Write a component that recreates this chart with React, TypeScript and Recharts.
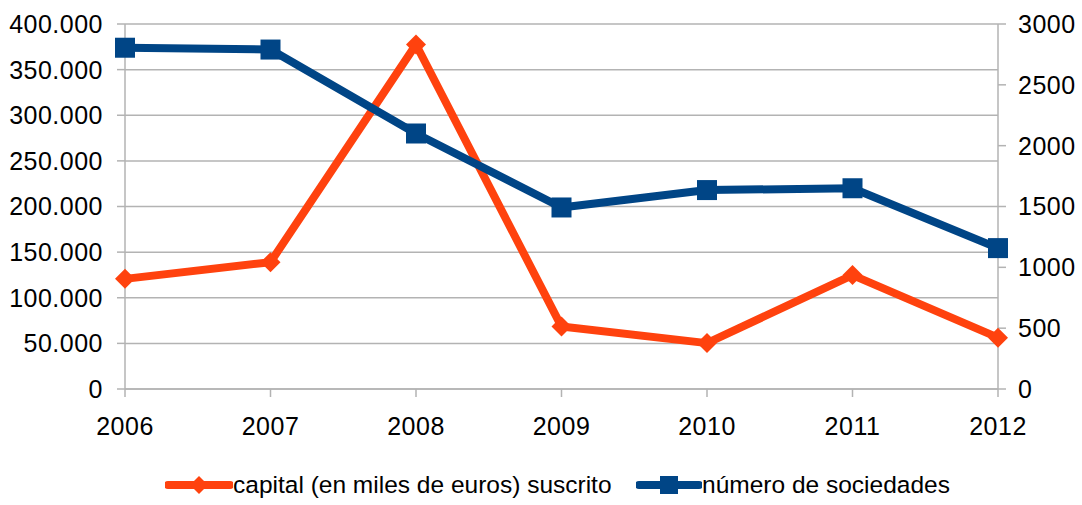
import React from "react";
import { LineChart, Line, XAxis, YAxis, CartesianGrid, Legend } from "recharts";

const years = ["2006", "2007", "2008", "2009", "2010", "2011", "2012"];
const capital = [120700, 139000, 377500, 68400, 50300, 124800, 56300];
const sociedades = [2805, 2790, 2100, 1492, 1635, 1650, 1158];
const leftTicks = [0, 50000, 100000, 150000, 200000, 250000, 300000, 350000, 400000];
const rightTicks = [0, 500, 1000, 1500, 2000, 2500, 3000];
const capitalName = "capital (en miles de euros) suscrito";
const sociedadesName = "número de sociedades";

const ORANGE = "#ff420e";
const BLUE = "#004586";
const GRID = "#b3b3b3";
const FONT = "'Liberation Sans', Arial, sans-serif";

const data = years.map((y, i) => ({ year: y, capital: capital[i], sociedades: sociedades[i] }));

const fmtDots = (v: number) => String(v).replace(/\B(?=(\d{3})+(?!\d))/g, ".");

const Diamond = (props: any) => {
  const { cx, cy, key } = props;
  if (cx == null || cy == null) return null;
  const r = 10;
  return (
    <polygon
      key={key}
      points={`${cx},${cy - r} ${cx + r},${cy} ${cx},${cy + r} ${cx - r},${cy}`}
      fill={ORANGE}
    />
  );
};

const Square = (props: any) => {
  const { cx, cy, key } = props;
  if (cx == null || cy == null) return null;
  const s = 20;
  return <rect key={key} x={cx - s / 2} y={cy - s / 2} width={s} height={s} fill={BLUE} />;
};

const LegendContent = () => (
  <div style={{ position: "relative", width: 1082, height: 40, fontFamily: FONT, fontSize: 24.5, color: "#000" }}>
    <div style={{ position: "absolute", left: 165, top: 0, height: 40, display: "flex", alignItems: "center" }}>
      <svg width={68} height={22} style={{ display: "block" }}>
        <line x1={3} y1={11} x2={65} y2={11} stroke={ORANGE} strokeWidth={8} strokeLinecap="round" />
        <polygon points="34,2 43,11 34,20 25,11" fill={ORANGE} />
      </svg>
      <span style={{ whiteSpace: "nowrap" }}>{capitalName}</span>
    </div>
    <div style={{ position: "absolute", left: 636, top: 0, height: 40, display: "flex", alignItems: "center" }}>
      <svg width={66} height={22} style={{ display: "block" }}>
        <line x1={3} y1={11} x2={63} y2={11} stroke={BLUE} strokeWidth={8} strokeLinecap="round" />
        <rect x={24} y={2} width={18} height={18} fill={BLUE} />
      </svg>
      <span style={{ whiteSpace: "nowrap" }}>{sociedadesName}</span>
    </div>
  </div>
);

export default function App() {
  const tickStyle = { fontFamily: FONT, fontSize: 25, fill: "#000", letterSpacing: 0.5 };
  return (
    <div style={{ position: "absolute", left: 0, top: 0, width: 1082, height: 505, background: "#fff" }}>
      <LineChart width={1082} height={505} data={data} margin={{ top: 24, right: 0, bottom: 0, left: 0 }}>
        <CartesianGrid yAxisId="left" vertical={false} stroke={GRID} strokeWidth={1.5} />
        <XAxis
          dataKey="year"
          height={76}
          tick={tickStyle}
          tickSize={8}
          tickMargin={20}
          stroke={GRID}
          axisLine={{ stroke: GRID, strokeWidth: 1.5 }}
          tickLine={{ stroke: GRID, strokeWidth: 1.5 }}
          interval={0}
        />
        <YAxis
          yAxisId="left"
          orientation="left"
          width={125}
          domain={[0, 400000]}
          ticks={leftTicks}
          tickFormatter={fmtDots}
          tick={tickStyle}
          tickSize={8}
          tickMargin={14}
          axisLine={{ stroke: GRID, strokeWidth: 1.5 }}
          tickLine={{ stroke: GRID, strokeWidth: 1.5 }}
          interval={0}
        />
        <YAxis
          yAxisId="right"
          orientation="right"
          width={84}
          domain={[0, 3000]}
          ticks={rightTicks}
          tick={{ ...tickStyle, textAnchor: "start" }}
          tickSize={8}
          tickMargin={12}
          axisLine={{ stroke: GRID, strokeWidth: 1.5 }}
          tickLine={{ stroke: GRID, strokeWidth: 1.5 }}
          interval={0}
        />
        <Legend verticalAlign="bottom" height={40} content={<LegendContent />} wrapperStyle={{ left: 0, width: 1082 }} />
        <Line
          yAxisId="left"
          dataKey="capital"
          name={capitalName}
          stroke={ORANGE}
          strokeWidth={8}
          dot={Diamond}
          activeDot={false}
          isAnimationActive={false}
          strokeLinejoin="round"
        />
        <Line
          yAxisId="right"
          dataKey="sociedades"
          name={sociedadesName}
          stroke={BLUE}
          strokeWidth={8}
          dot={Square}
          activeDot={false}
          isAnimationActive={false}
          strokeLinejoin="round"
        />
      </LineChart>
    </div>
  );
}
